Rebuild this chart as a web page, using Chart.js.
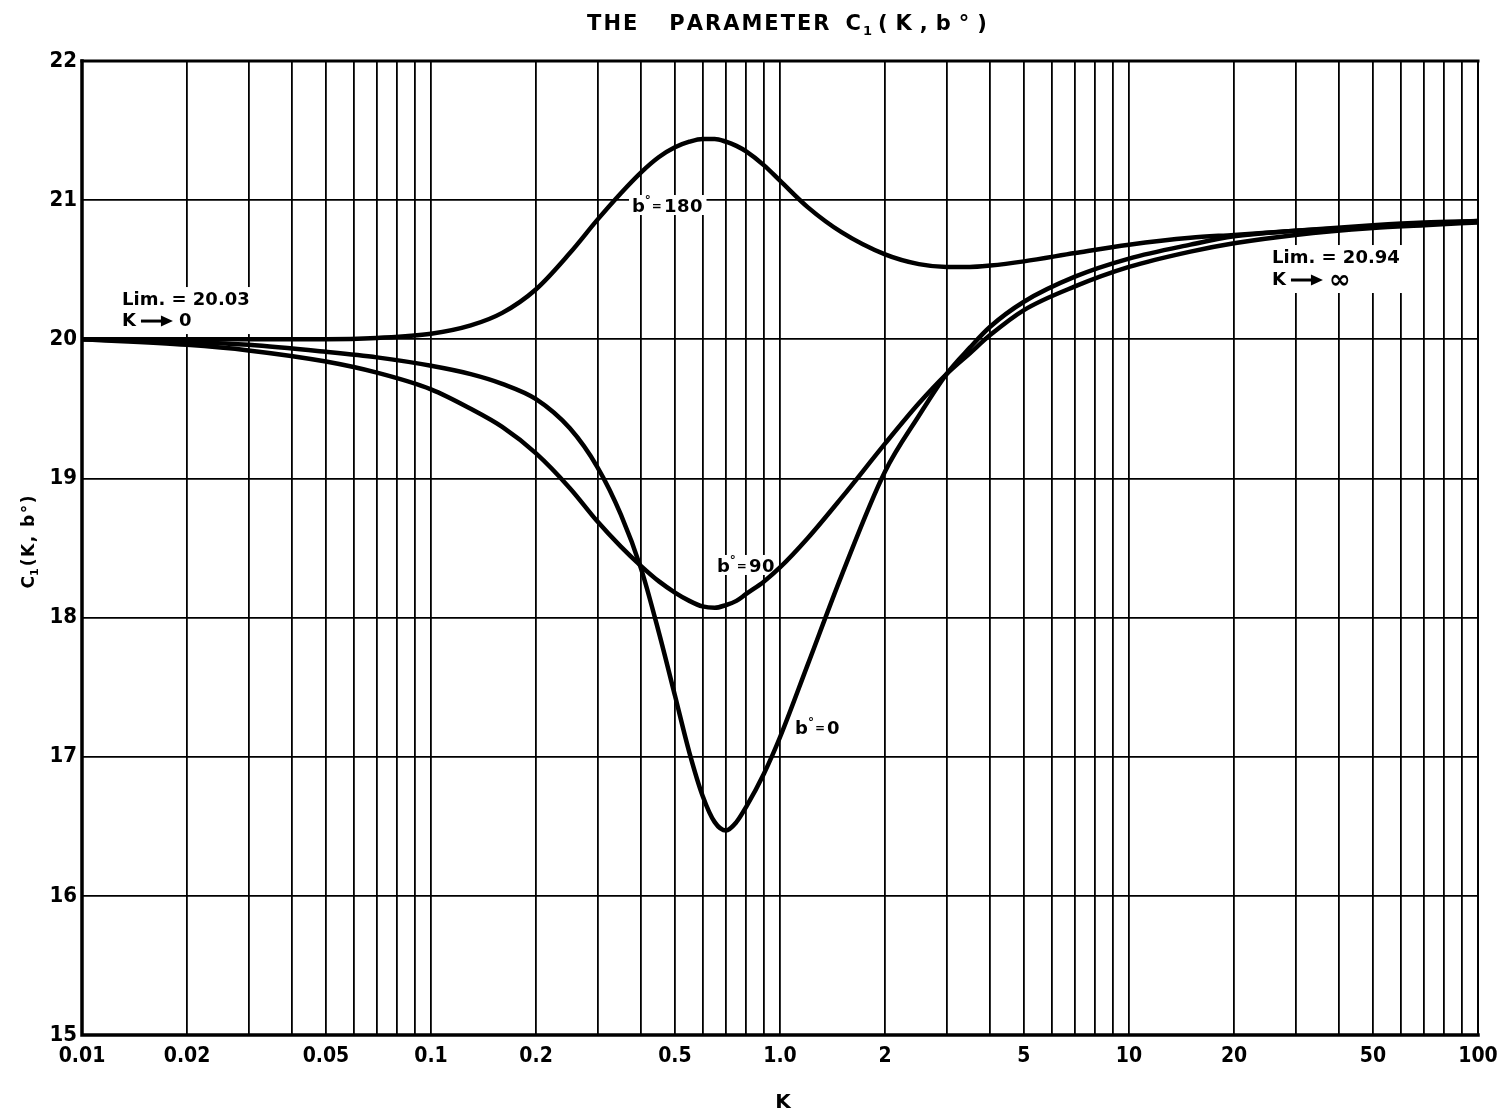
<!DOCTYPE html>
<html>
<head>
<meta charset="utf-8">
<script src="https://cdn.jsdelivr.net/npm/chart.js@4.4.1/dist/chart.umd.min.js"></script>
<style>
  html, body { margin: 0; padding: 0; background: #fff; }
  #wrap { width: 1497px; height: 1118px; }
</style>
</head>
<body>
<div id="wrap"><canvas id="chart" width="1497" height="1118"></canvas></div>
<script>
// Parameter K (log axis) at which each curve is sampled
const kValues = [0.01, 0.02, 0.03, 0.05, 0.07, 0.1, 0.13, 0.16, 0.2, 0.25, 0.3, 0.35, 0.4, 0.45,
  0.5, 0.55, 0.6, 0.65, 0.7, 0.75, 0.8, 0.9, 1.0, 1.2, 1.5, 2, 2.5, 3, 3.5, 4, 5, 7, 10, 15, 20, 30, 50, 70, 100];

// C1(K, b°) for b° = 180
const c180 = [20.00, 20.00, 20.00, 20.00, 20.01, 20.04, 20.10, 20.19, 20.36, 20.62, 20.86, 21.05, 21.20, 21.31,
  21.38, 21.42, 21.44, 21.44, 21.42, 21.39, 21.35, 21.25, 21.14, 20.95, 20.77, 20.61, 20.54, 20.52, 20.52, 20.53,
  20.56, 20.62, 20.68, 20.73, 20.75, 20.78, 20.81, 20.83, 20.85];

// C1(K, b°) for b° = 90
const c90 = [20.00, 19.96, 19.92, 19.84, 19.76, 19.64, 19.50, 19.37, 19.18, 18.93, 18.69, 18.51, 18.37, 18.26,
  18.18, 18.12, 18.08, 18.07, 18.09, 18.12, 18.17, 18.26, 18.36, 18.57, 18.86, 19.25, 19.54, 19.75, 19.90, 20.03,
  20.21, 20.38, 20.52, 20.63, 20.69, 20.75, 20.80, 20.82, 20.84];

// C1(K, b°) for b° = 0
const c0 = [20.00, 19.98, 19.96, 19.91, 19.87, 19.81, 19.75, 19.68, 19.57, 19.36, 19.08, 18.74, 18.35, 17.89,
  17.44, 17.03, 16.72, 16.53, 16.47, 16.53, 16.64, 16.88, 17.14, 17.66, 18.30, 19.05, 19.45, 19.75, 19.94, 20.09,
  20.27, 20.45, 20.58, 20.68, 20.74, 20.78, 20.82, 20.84, 20.85];

// Log grid: every 1..9 step of each decade
const gridK = [0.01, 0.02, 0.03, 0.04, 0.05, 0.06, 0.07, 0.08, 0.09,
  0.1, 0.2, 0.3, 0.4, 0.5, 0.6, 0.7, 0.8, 0.9,
  1, 2, 3, 4, 5, 6, 7, 8, 9,
  10, 20, 30, 40, 50, 60, 70, 80, 90, 100];

// Labelled K ticks and their printed text
const kLabelValues = [0.01, 0.02, 0.05, 0.1, 0.2, 0.5, 1, 2, 5, 10, 20, 50, 100];
const kLabelTexts = ['0.01', '0.02', '0.05', '0.1', '0.2', '0.5', '1.0', '2', '5', '10', '20', '50', '100'];

// C1 ticks
const cTicks = [15, 16, 17, 18, 19, 20, 21, 22];

// Curve labels: anchor (K, C1), the b° value printed
const curveNotes = [
  { k: 0.3766, c: 20.965, value: '180' },
  { k: 0.6598, c: 18.378, value: '90' },
  { k: 1.104, c: 17.213, value: '0' }
];

// Limit notes: anchor (K, C1) of each line, limit text and arrow target
const limitNotes = [
  { k: 0.01302, c: 20.282, c2: 20.131, text: 'Lim. = 20.03', target: '0' },
  { k: 25.69, c: 20.584, c2: 20.426, text: 'Lim. = 20.94', target: '\u221E' }
];

const NARROW = "'DejaVu Sans Condensed', 'Liberation Sans', sans-serif";
const SANS = "'DejaVu Sans', 'Noto Sans', sans-serif";

function toPoints(values) {
  return kValues.map((k, i) => ({ x: k, y: values[i] }));
}

function kLabel(v) {
  for (let i = 0; i < kLabelValues.length; i++) {
    if (Math.abs(Math.log10(v) - Math.log10(kLabelValues[i])) < 1e-6) return kLabelTexts[i];
  }
  return '';
}

// draws text one glyph at a time with extra tracking, returns end x
function drawTracked(ctx, text, x, y, track) {
  for (const ch of text) {
    ctx.fillText(ch, x, y);
    x += ctx.measureText(ch).width + track;
  }
  return x - track;
}
function measureTracked(ctx, text, track) {
  let w = 0;
  for (const ch of text) w += ctx.measureText(ch).width + track;
  return w - track;
}

const NOTE_FONT = 'bold 18px ' + SANS;

// "b° = N" label, left edge x, vertical centre y
function drawBLabel(ctx, x, y, value, doDraw) {
  ctx.textBaseline = 'alphabetic';
  const base = y + 7;
  let cx = x;
  ctx.font = NOTE_FONT;
  if (doDraw) ctx.fillText('b', cx, base);
  cx += ctx.measureText('b').width;
  ctx.font = 'bold 12px ' + SANS;
  if (doDraw) ctx.fillText('\u00B0', cx, base - 8);
  cx += ctx.measureText('\u00B0').width + 1;
  ctx.font = 'bold 12px ' + SANS;
  if (doDraw) ctx.fillText('=', cx, base - 2);
  cx += ctx.measureText('=').width + 2;
  ctx.font = NOTE_FONT;
  cx = doDraw ? drawTracked(ctx, value, cx, base, 0.5) : cx + measureTracked(ctx, value, 0.5);
  return cx;
}

// "K ——> target" line, left edge x, vertical centre y
function drawArrowLine(ctx, x, y, target) {
  ctx.textBaseline = 'middle';
  ctx.font = NOTE_FONT;
  ctx.fillText('K', x, y);
  let cx = x + ctx.measureText('K').width + 5;
  ctx.lineWidth = 3;
  ctx.beginPath();
  ctx.moveTo(cx, y);
  ctx.lineTo(cx + 22, y);
  ctx.stroke();
  ctx.beginPath();
  ctx.moveTo(cx + 32, y);
  ctx.lineTo(cx + 20, y - 5.5);
  ctx.lineTo(cx + 20, y + 5.5);
  ctx.closePath();
  ctx.fill();
  cx += 38;
  if (target === '\u221E') ctx.font = 'bold 26px ' + SANS;
  ctx.fillText(target, cx, y + (target === '\u221E' ? 1 : 0));
  return cx + ctx.measureText(target).width;
}

const decor = {
  id: 'decor',
  beforeDatasetsDraw(chart) {
    const { ctx, scales: { x, y } } = chart;
    ctx.save();
    ctx.fillStyle = '#000';
    ctx.strokeStyle = '#000';

    // curve labels on white patches
    curveNotes.forEach(n => {
      const px = x.getPixelForValue(n.k), py = y.getPixelForValue(n.c);
      const end = drawBLabel(ctx, px, py, n.value, false);
      ctx.fillStyle = '#fff';
      ctx.fillRect(px - 3, py - 10, end - px + 7, 20);
      ctx.fillStyle = '#000';
      drawBLabel(ctx, px, py, n.value, true);
    });

    // limit notes
    limitNotes.forEach(n => {
      const px = x.getPixelForValue(n.k);
      const py1 = y.getPixelForValue(n.c), py2 = y.getPixelForValue(n.c2);
      ctx.font = NOTE_FONT;
      const w = measureTracked(ctx, n.text, 0);
      ctx.fillStyle = '#fff';
      ctx.fillRect(px - 4, py1 - 13, w + 8, py2 - py1 + 26);
      ctx.fillStyle = '#000';
      ctx.textBaseline = 'middle';
      drawTracked(ctx, n.text, px, py1, 0);
      drawArrowLine(ctx, px, py2, n.target);
    });
    ctx.restore();
  },
  afterDraw(chart) {
    const { ctx, chartArea: a } = chart;
    ctx.save();
    ctx.fillStyle = '#000';
    ctx.strokeStyle = '#000';

    // frame
    ctx.lineCap = 'square';
    ctx.lineWidth = 3.5;
    ctx.beginPath();
    ctx.moveTo(a.left, a.top); ctx.lineTo(a.left, a.bottom); ctx.lineTo(a.right, a.bottom);
    ctx.stroke();
    ctx.lineWidth = 3;
    ctx.beginPath();
    ctx.moveTo(a.left, a.top); ctx.lineTo(a.right, a.top);
    ctx.stroke();
    ctx.lineWidth = 2;
    ctx.beginPath();
    ctx.moveTo(a.right, a.top); ctx.lineTo(a.right, a.bottom);
    ctx.stroke();

    // main title
    ctx.textBaseline = 'alphabetic';
    const tBase = 30;
    const mainFont = 'bold 21px ' + SANS;
    const subFont = 'bold 13px ' + SANS;
    ctx.font = mainFont;
    const wThe = measureTracked(ctx, 'THE', 2);
    const wPar = measureTracked(ctx, 'PARAMETER', 2);
    const wC = ctx.measureText('C').width;
    const wTail = measureTracked(ctx, '(K,b\u00B0)', 8);
    ctx.font = subFont;
    const wSub = ctx.measureText('1').width;
    const gap1 = 32, gap2 = 16, gap3 = 2, gap4 = 6;
    const total = wThe + gap1 + wPar + gap2 + wC + gap3 + wSub + gap4 + wTail;
    let tx = 787 - total / 2;
    ctx.font = mainFont;
    tx = drawTracked(ctx, 'THE', tx, tBase, 2) + gap1;
    tx = drawTracked(ctx, 'PARAMETER', tx, tBase, 2) + gap2;
    ctx.fillText('C', tx, tBase); tx += wC + gap3;
    ctx.font = subFont;
    ctx.fillText('1', tx, tBase + 5); tx += wSub + gap4;
    ctx.font = mainFont;
    drawTracked(ctx, '(K,b\u00B0)', tx, tBase, 8);

    // y axis title, rotated
    ctx.save();
    ctx.translate(34, 542);
    ctx.rotate(-Math.PI / 2);
    const yFont = 'bold 17px ' + SANS;
    const ySub = 'bold 11px ' + SANS;
    ctx.font = yFont;
    const yC = ctx.measureText('C').width;
    const yTail = measureTracked(ctx, '(K, b\u00B0)', 1.5);
    ctx.font = ySub;
    const ySw = ctx.measureText('1').width;
    let yx = -(yC + ySw + 2 + yTail) / 2;
    ctx.font = yFont;
    ctx.fillText('C', yx, 0); yx += yC;
    ctx.font = ySub;
    ctx.fillText('1', yx, 4); yx += ySw + 2;
    ctx.font = yFont;
    drawTracked(ctx, '(K, b\u00B0)', yx, 0, 1.5);
    ctx.restore();

    // x axis title
    ctx.font = 'bold 20px ' + SANS;
    ctx.textAlign = 'center';
    ctx.textBaseline = 'middle';
    ctx.fillText('K', 783, 1103);
    ctx.restore();
  }
};

const lineStyle = {
  borderColor: '#000',
  backgroundColor: '#000',
  borderWidth: 4.5,
  pointRadius: 0,
  fill: false,
  cubicInterpolationMode: 'monotone',
  tension: 0.4
};

new Chart(document.getElementById('chart'), {
  type: 'line',
  data: {
    datasets: [
      Object.assign({ label: 'b\u00B0 = 180', data: toPoints(c180) }, lineStyle),
      Object.assign({ label: 'b\u00B0 = 90', data: toPoints(c90) }, lineStyle),
      Object.assign({ label: 'b\u00B0 = 0', data: toPoints(c0) }, lineStyle)
    ]
  },
  options: {
    responsive: false,
    animation: false,
    devicePixelRatio: 1,
    layout: { padding: { top: 61, right: 19, left: 0, bottom: 0 } },
    plugins: {
      legend: { display: false },
      title: { display: false },
      tooltip: { enabled: false }
    },
    scales: {
      x: {
        type: 'logarithmic',
        min: 0.01,
        max: 100,
        afterBuildTicks: (scale) => { scale.ticks = gridK.map(v => ({ value: v })); },
        afterFit: (scale) => { scale.height = 83; scale.paddingLeft = 0; scale.paddingRight = 0; },
        grid: { color: '#000', lineWidth: 1.8, drawTicks: false },
        border: { display: false },
        ticks: {
          autoSkip: false,
          maxRotation: 0,
          minRotation: 0,
          padding: 9,
          color: '#000',
          font: { family: NARROW, size: 21, weight: 'bold condensed' },
          callback: (v) => kLabel(v)
        }
      },
      y: {
        type: 'linear',
        min: 15,
        max: 22,
        afterBuildTicks: (scale) => { scale.ticks = cTicks.map(v => ({ value: v })); },
        afterFit: (scale) => { scale.width = 82; scale.paddingTop = 0; scale.paddingBottom = 0; },
        grid: { color: '#000', lineWidth: 1.8, drawTicks: false },
        border: { display: false },
        ticks: {
          padding: 5,
          color: '#000',
          font: { family: NARROW, size: 22, weight: 'bold condensed' }
        }
      }
    }
  },
  plugins: [decor]
});
</script>
</body>
</html>
